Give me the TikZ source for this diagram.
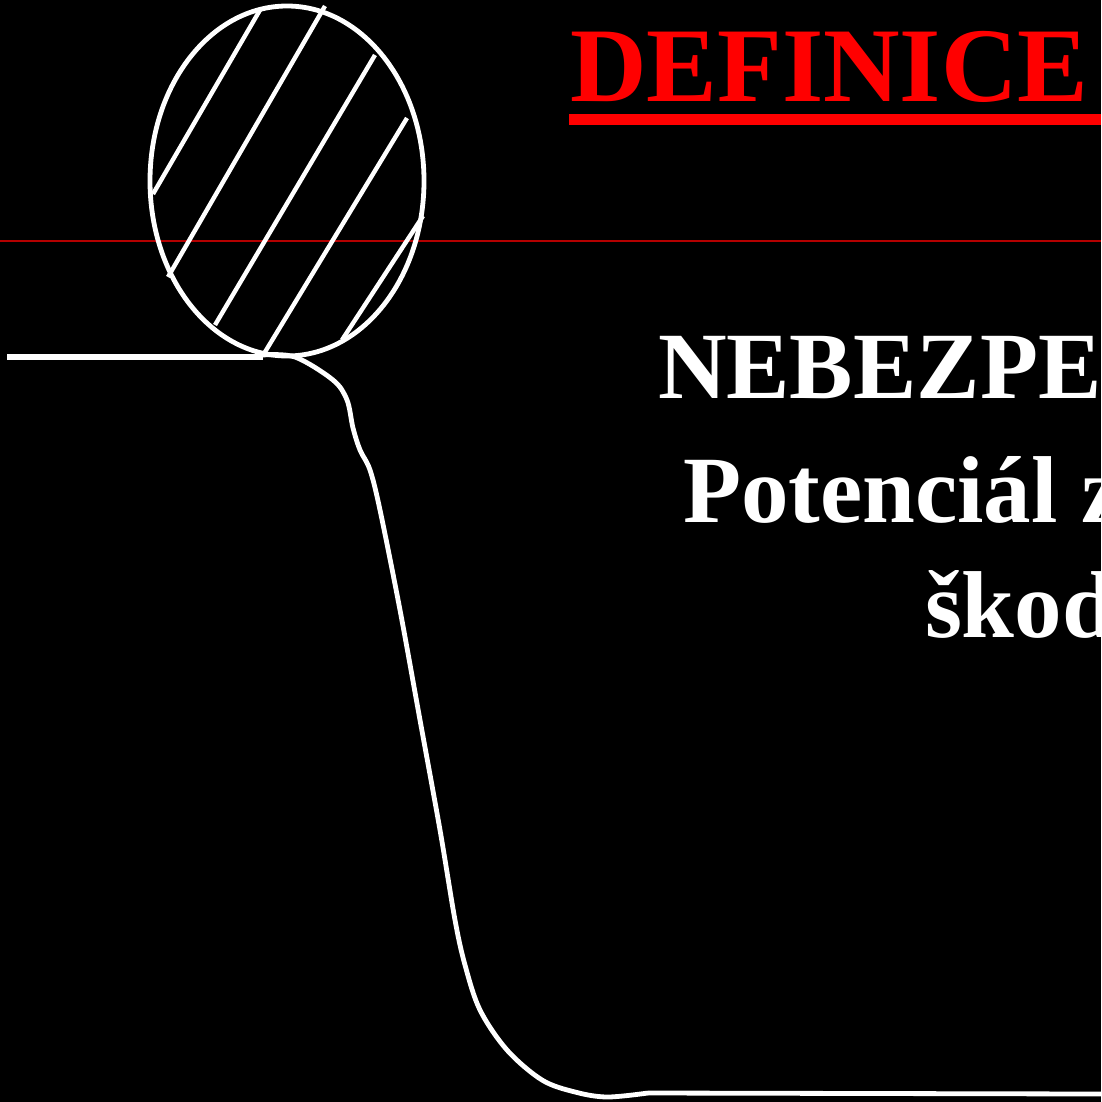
\documentclass[tikz,border=0pt]{standalone}
\usepackage{fontspec}
\setmainfont{Liberation Serif}
\usepackage{xcolor}
\usetikzlibrary{positioning}

\definecolor{slidered}{RGB}{255,0,0}
\definecolor{guidered}{RGB}{180,0,0}

\begin{document}
\begin{tikzpicture}[
    x=1pt, y=-1pt,
    every node/.style={inner sep=0pt, outer sep=0pt},
    sketch/.style={draw=white, line width=4.8pt},
    hatch/.style={draw=white, line width=4.4pt},
    title/.style={font=\fontsize{106}{110}\bfseries\selectfont, text=slidered, anchor=base west},
    body/.style={font=\fontsize{95}{100}\bfseries\selectfont, text=white, anchor=base west}
]

% =========================================================
% Canvas
% =========================================================
\fill[black] (0,0) rectangle (1101,1102);
\useasboundingbox (0,0) rectangle (1101,1102);
\clip (0,0) rectangle (1101,1102);

% thin guide line
\draw[guidered, line width=2.2pt] (0,241) -- (1101,241);

% =========================================================
% Head: hatched ellipse
% =========================================================
\draw[sketch] (287,181) ellipse (137 and 175);
\draw[hatch] (153,194) -- (260,10);
\draw[hatch] (168,277) -- (325,6);
\draw[hatch] (215,325) -- (375,55);
\draw[hatch] (265,352) -- (407,118);
\draw[hatch] (342,340) -- (423,216);

% =========================================================
% Ground and slope
% =========================================================
\coordinate (ground_l) at (7,357);
\coordinate (ground_m) at (263,357);
\coordinate (foot_l)   at (648,1093);
\coordinate (foot_r)   at (1101,1094);

\draw[white, line width=5.5pt] (ground_l) -- (ground_m);
\draw[sketch, line join=round] plot[smooth, tension=0.55] coordinates {
    (263,355) (295,357) (333,380) (347,400) (353,428) (360,450) (370,470)
    (380,510) (400,610) (420,720) (440,830) (455,920) (465,965)
    (480,1010) (507,1050) (542,1080) (575,1092) (607,1097) (648,1093)};
\draw[white, line width=4.8pt] (foot_l) -- (foot_r);

% =========================================================
% Texts
% =========================================================
\node[title] (def_t) at (570,102) {DEFINICE};
\fill[slidered] (569,114) rectangle (1101,125);

\node[body] (haz_1) at (658,398) {NEBEZPEČÍ};
\node[body] (haz_2) at (683,522) {Potenciál způsobit};
\node[body] (haz_3) at (925,637) {škodu};

\end{tikzpicture}
\end{document}
